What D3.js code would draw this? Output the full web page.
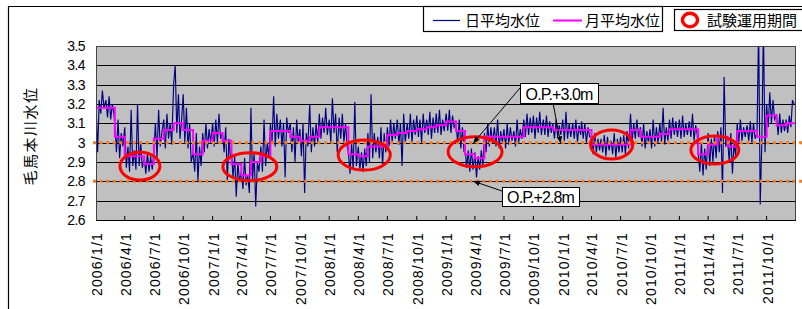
<!DOCTYPE html>
<html lang="ja">
<head>
<meta charset="UTF-8">
<title>毛馬本川水位</title>
<script src="https://d3js.org/d3.v7.min.js"></script>
<style>
  body { margin: 0; background: #fff; }
  svg { display: block; }
  .tick-label { font-family: "Liberation Sans", Arial, sans-serif; font-size: 14px; fill: #000; }
  .jp { font-family: "Noto Sans CJK JP", sans-serif; fill: #000; }
</style>
</head>
<body>
<svg width="802" height="309"></svg>
<script>
// ---- data ----
const yTicks = [2.6, 2.7, 2.8, 2.9, 3.0, 3.1, 3.2, 3.3, 3.4, 3.5];
const xTickLabels = [
  "2006/1/1","2006/4/1","2006/7/1","2006/10/1","2007/1/1","2007/4/1","2007/7/1","2007/10/1",
  "2008/1/1","2008/4/1","2008/7/1","2008/10/1","2009/1/1","2009/4/1","2009/7/1","2009/10/1",
  "2010/1/1","2010/4/1","2010/7/1","2010/10/1","2011/1/1","2011/4/1","2011/7/1","2011/10/1"
];

// daily mean level, sampled on days 1,6,11,16,21,26 of each month
const daily2006 = [
  3.20,2.95,3.22,3.15,3.27,3.18, 3.22,3.13,3.24,3.12,3.20,3.15, 3.10,2.95,3.12,2.92,3.05,2.98,
  3.08,2.87,2.98,2.85,3.17,2.88, 2.96,2.86,3.20,2.88,3.00,2.87, 2.92,2.84,2.95,2.85,2.93,2.86,
  2.95,3.10,2.92,3.17,2.98,3.05, 3.12,2.97,3.15,3.02,3.10,2.99, 3.30,3.40,3.05,3.25,3.02,3.12,
  3.25,3.00,3.18,2.97,3.10,2.90, 2.95,2.85,3.05,2.80,2.98,2.88, 3.05,2.95,3.10,2.97,3.07,3.00
];
const daily2007 = [
  3.10,2.98,3.12,3.00,3.15,3.02, 3.05,2.95,3.08,2.80,3.02,2.92, 2.95,2.82,2.93,2.72,2.90,2.80,
  2.85,2.76,2.92,2.78,2.83,2.74, 3.18,2.80,2.95,2.67,2.90,2.85, 2.98,2.85,3.12,2.88,3.00,2.92,
  3.10,3.00,3.24,2.98,3.15,3.02, 3.12,2.98,3.10,2.82,3.13,3.05, 3.10,2.95,3.08,2.90,3.12,3.00,
  3.07,2.93,3.10,2.74,3.05,2.98, 3.20,2.95,3.08,2.98,3.10,3.00, 3.15,3.02,3.13,3.05,3.18,3.04
];
const daily2008 = [
  3.12,3.00,3.23,3.05,3.15,2.95, 3.13,3.02,3.15,3.00,3.10,2.98, 2.95,2.84,3.00,2.86,3.21,2.88,
  2.98,2.86,2.95,2.85,2.97,2.88, 3.05,2.90,3.25,2.92,3.05,2.95, 3.03,2.92,3.08,2.88,3.05,2.95,
  3.08,2.98,3.12,3.00,3.10,3.02, 3.12,2.99,3.10,2.88,3.15,3.00, 3.10,3.02,3.15,3.00,3.12,3.04,
  3.14,3.03,3.12,3.00,3.15,3.05, 3.12,3.04,3.16,3.02,3.13,3.05, 3.15,3.05,3.17,3.04,3.12,3.06
];
const daily2009 = [
  3.15,3.06,3.17,3.05,3.14,3.08, 3.10,3.00,3.12,2.97,3.08,2.95, 2.98,2.87,2.96,2.85,2.97,2.86,
  2.95,2.82,2.93,2.86,2.96,2.88, 3.05,2.95,3.10,2.98,3.08,3.00, 3.08,2.98,3.12,2.97,3.06,3.00,
  3.07,2.97,3.10,2.99,3.08,3.01, 3.06,2.98,3.12,3.00,3.07,3.02, 3.12,3.03,3.15,3.04,3.13,3.05,
  3.14,3.02,3.13,3.05,3.16,3.04, 3.12,3.04,3.14,3.03,3.11,3.05, 3.10,3.02,3.12,3.03,3.09,3.04
];
const daily2010 = [
  3.12,3.01,3.16,3.02,3.10,3.03, 3.10,3.02,3.12,3.00,3.09,3.04, 3.11,3.02,3.10,3.00,3.08,3.03,
  3.03,2.94,3.05,2.95,3.02,2.96, 3.02,2.95,3.04,2.93,3.03,2.96, 3.01,2.94,3.05,2.92,3.02,2.95,
  3.03,2.95,3.04,2.94,3.06,2.97, 3.15,3.00,3.10,3.02,3.12,3.03, 3.08,2.98,3.10,2.97,3.06,3.00,
  3.07,2.97,3.12,2.98,3.08,3.00, 3.10,3.00,3.18,2.99,3.08,3.01, 3.12,3.02,3.13,3.04,3.11,3.03
];
const daily2011 = [
  3.12,3.02,3.14,3.03,3.10,3.04, 3.11,3.03,3.15,3.01,3.09,3.04, 2.95,2.85,3.00,2.83,2.97,2.86,
  3.05,2.88,3.02,2.90,3.04,2.92, 3.06,2.95,3.08,2.74,3.34,2.98, 3.02,2.90,3.05,2.84,3.00,2.93,
  3.10,3.00,3.12,3.01,3.08,3.03, 3.09,3.01,3.11,3.00,3.10,3.02, 3.05,3.60,2.68,3.00,3.60,2.95,
  3.20,3.08,3.26,3.10,3.22,3.12, 3.14,3.04,3.15,3.05,3.12,3.06, 3.12,3.05,3.14,3.08,3.22,3.20
];
const dailyYears = [2006, 2007, 2008, 2009, 2010, 2011];
const dailySeries = [daily2006, daily2007, daily2008, daily2009, daily2010, daily2011];
const sampleDays = [1, 6, 11, 16, 21, 26];

// monthly mean level, Jan 2006 .. Dec 2011
const monthly = [
  3.18,3.18,3.03,2.93,2.93,2.89,3.02,3.065,3.10,3.065,2.94,3.01,
  3.05,3.01,2.89,2.83,2.90,2.93,3.06,3.06,3.03,3.01,3.03,3.08,
  3.08,3.08,2.94,2.93,2.98,2.98,3.04,3.05,3.06,3.07,3.08,3.09,
  3.11,3.06,2.94,2.92,3.03,3.03,3.03,3.03,3.08,3.08,3.08,3.065,
  3.065,3.065,3.065,2.99,2.99,2.99,2.99,3.065,3.03,3.03,3.045,3.07,
  3.07,3.07,2.94,2.99,3.03,2.98,3.06,3.06,3.03,3.14,3.09,3.10
];

// trial operation periods (red ellipses): start, end, centre level, half height
const trialStart = ["2006/3/17", "2007/2/2", "2008/1/29", "2009/1/7", "2010/3/29", "2011/2/6"];
const trialEnd   = ["2006/7/20", "2007/7/21", "2008/7/10", "2009/6/25", "2010/8/8", "2011/7/6"];
const trialLevel = [2.879, 2.876, 2.936, 2.953, 2.991, 2.962];
const trialHalf  = [0.072, 0.072, 0.078, 0.078, 0.075, 0.072];

const refLevels = [3.0, 2.8];

// ---- layout ----
const svg = d3.select("svg");
const plot = { left: 96, right: 796, top: 46, bottom: 220 };
const parse = d3.timeParse("%Y/%m/%d");

const x = d3.scaleTime()
  .domain([new Date(2006, 0, 1), new Date(2012, 0, 1)])
  .range([plot.left, plot.right]);
const y = d3.scaleLinear().domain([2.6, 3.5]).range([plot.bottom, plot.top]);

// outer chart frame (left and top edges only are visible)
svg.append("path")
  .attr("d", "M8.5,309 V6.5 H802")
  .attr("fill", "none").attr("stroke", "#000").attr("stroke-width", 1.2);

// plot background
svg.append("rect")
  .attr("x", plot.left).attr("y", plot.top)
  .attr("width", plot.right - plot.left).attr("height", plot.bottom - plot.top)
  .attr("fill", "#c0c0c0");

// grid lines
svg.append("g").selectAll("line")
  .data(yTicks.slice(1, -1))
  .join("line")
  .attr("x1", plot.left).attr("x2", plot.right)
  .attr("y1", d => Math.round(y(d)) + 0.5).attr("y2", d => Math.round(y(d)) + 0.5)
  .attr("stroke", "#000").attr("stroke-width", 1);

svg.append("defs").append("clipPath").attr("id", "clip")
  .append("rect")
  .attr("x", plot.left).attr("y", plot.top)
  .attr("width", plot.right - plot.left).attr("height", plot.bottom - plot.top);

// daily series
const dailyPts = [];
dailyYears.forEach((yr, i) => {
  dailySeries[i].forEach((v, k) => {
    dailyPts.push({ date: new Date(yr, Math.floor(k / 6), sampleDays[k % 6]), v });
  });
});
svg.append("path")
  .datum(dailyPts)
  .attr("clip-path", "url(#clip)")
  .attr("fill", "none").attr("stroke", "#000080").attr("stroke-width", 1.15)
  .attr("d", d3.line().x(d => x(d.date)).y(d => y(d.v)));

// monthly series (stepped)
const monthlyPts = monthly.map((v, i) => ({ date: new Date(2006, i, 1), v }));
monthlyPts.push({ date: new Date(2012, 0, 1), v: monthly[monthly.length - 1] });
svg.append("path")
  .datum(monthlyPts)
  .attr("fill", "none").attr("stroke", "#ff00ff").attr("stroke-width", 2)
  .attr("d", d3.line().curve(d3.curveStepAfter).x(d => x(d.date)).y(d => y(d.v)));

// reference levels (dotted orange)
svg.append("g").selectAll("line")
  .data(refLevels)
  .join("line")
  .attr("x1", plot.left - 3).attr("x2", 802)
  .attr("y1", d => y(d)).attr("y2", d => y(d))
  .attr("stroke", "#f47b20").attr("stroke-width", 3)
  .attr("stroke-dasharray", "3,3.6");

// trial period ellipses
svg.append("g").selectAll("ellipse")
  .data(trialStart.map((s, i) => ({ s: parse(s), e: parse(trialEnd[i]), lv: trialLevel[i], h: trialHalf[i] })))
  .join("ellipse")
  .attr("cx", d => (x(d.s) + x(d.e)) / 2)
  .attr("cy", d => y(d.lv))
  .attr("rx", d => (x(d.e) - x(d.s)) / 2)
  .attr("ry", d => y(d.lv - d.h) - y(d.lv))
  .attr("fill", "none").attr("stroke", "#ff0000").attr("stroke-width", 3);

// plot border
svg.append("rect")
  .attr("x", plot.left + 0.5).attr("y", plot.top + 0.5)
  .attr("width", plot.right - plot.left - 1).attr("height", plot.bottom - plot.top)
  .attr("fill", "none").attr("stroke", "#444").attr("stroke-width", 1);

// x axis
const xTicks = xTickLabels.map(parse);
const xAxis = svg.append("g");
xAxis.append("line")
  .attr("x1", plot.left).attr("x2", plot.right)
  .attr("y1", plot.bottom + 0.5).attr("y2", plot.bottom + 0.5)
  .attr("stroke", "#000");
xAxis.selectAll("line.tk")
  .data(xTicks.slice(1))
  .join("line").attr("class", "tk")
  .attr("x1", d => x(d)).attr("x2", d => x(d))
  .attr("y1", plot.bottom - 4).attr("y2", plot.bottom)
  .attr("stroke", "#000");
xAxis.selectAll("text")
  .data(xTickLabels)
  .join("text")
  .attr("class", "tick-label")
  .attr("transform", d => `translate(${x(parse(d)) + 1},232) rotate(-90)`)
  .attr("text-anchor", "end")
  .attr("dy", "0.35em")
  .attr("letter-spacing", "1.2")
  .text(d => d);

// y axis labels
svg.append("g").selectAll("text")
  .data(yTicks)
  .join("text")
  .attr("class", "tick-label")
  .attr("x", 85).attr("y", d => y(d))
  .attr("dy", "0.35em")
  .attr("text-anchor", "end")
  .attr("letter-spacing", "-0.6")
  .text(d => d3.format(".1~f")(d));

// y axis title
svg.append("text")
  .attr("class", "jp")
  .attr("transform", "translate(31,136) rotate(-90)")
  .attr("text-anchor", "middle").attr("dy", "0.35em")
  .style("font-size", "15px").attr("letter-spacing", "1.5")
  .text("毛馬本川水位");

// annotations
const defs = svg.select("defs");
defs.append("marker").attr("id", "arr")
  .attr("viewBox", "0 0 10 10").attr("refX", 9).attr("refY", 5)
  .attr("markerWidth", 7).attr("markerHeight", 7).attr("orient", "auto")
  .append("path").attr("d", "M0,1 L10,5 L0,9 z").attr("fill", "#000");

const notes = [
  { text: "O.P.+3.0m", bx: 520, by: 83, bw: 78, bh: 20,
    arrows: [[520, 88, new Date(2009, 2, 28), 3.0], [553, 103, new Date(2009, 11, 25), 3.0]] },
  { text: "O.P.+2.8m", bx: 502, by: 187, bw: 77, bh: 19,
    arrows: [[502, 191, new Date(2009, 2, 28), 2.8]] }
];
notes.forEach(n => {
  n.arrows.forEach(a => {
    svg.append("line")
      .attr("x1", a[0]).attr("y1", a[1]).attr("x2", x(a[2])).attr("y2", y(a[3]))
      .attr("stroke", "#000").attr("stroke-width", 1)
      .attr("marker-end", "url(#arr)");
  });
  svg.append("rect")
    .attr("x", n.bx + 0.5).attr("y", n.by + 0.5).attr("width", n.bw).attr("height", n.bh)
    .attr("fill", "#fff").attr("stroke", "#000").attr("stroke-width", 1);
  svg.append("text")
    .attr("class", "tick-label")
    .attr("x", n.bx + n.bw / 2).attr("y", n.by + n.bh / 2 + 1)
    .attr("text-anchor", "middle").attr("dy", "0.35em")
    .attr("letter-spacing", "-0.9")
    .style("font-size", "16px")
    .text(n.text);
});

// legend
const lg = svg.append("g");
lg.append("rect").attr("x", 423.5).attr("y", 6.5).attr("width", 239).attr("height", 25)
  .attr("fill", "#fff").attr("stroke", "#000").attr("stroke-width", 1.2);
lg.append("line").attr("x1", 433).attr("x2", 460).attr("y1", 20.5).attr("y2", 20.5)
  .attr("stroke", "#000080").attr("stroke-width", 1.2);
lg.append("text").attr("class", "jp").attr("x", 465).attr("y", 20.5).attr("dy", "0.35em")
  .style("font-size", "15px").text("日平均水位");
lg.append("line").attr("x1", 553).attr("x2", 582).attr("y1", 20.5).attr("y2", 20.5)
  .attr("stroke", "#ff00ff").attr("stroke-width", 2);
lg.append("text").attr("class", "jp").attr("x", 585).attr("y", 20.5).attr("dy", "0.35em")
  .style("font-size", "15px").text("月平均水位");

lg.append("rect").attr("x", 674.5).attr("y", 9.5).attr("width", 140).attr("height", 21)
  .attr("fill", "#fff").attr("stroke", "#000").attr("stroke-width", 1.2);
lg.append("ellipse").attr("cx", 690).attr("cy", 20).attr("rx", 7.5).attr("ry", 6.8)
  .attr("fill", "none").attr("stroke", "#ff0000").attr("stroke-width", 3.5);
lg.append("text").attr("class", "jp").attr("x", 707).attr("y", 20.5).attr("dy", "0.35em")
  .style("font-size", "15px").text("試験運用期間");
</script>
</body>
</html>
